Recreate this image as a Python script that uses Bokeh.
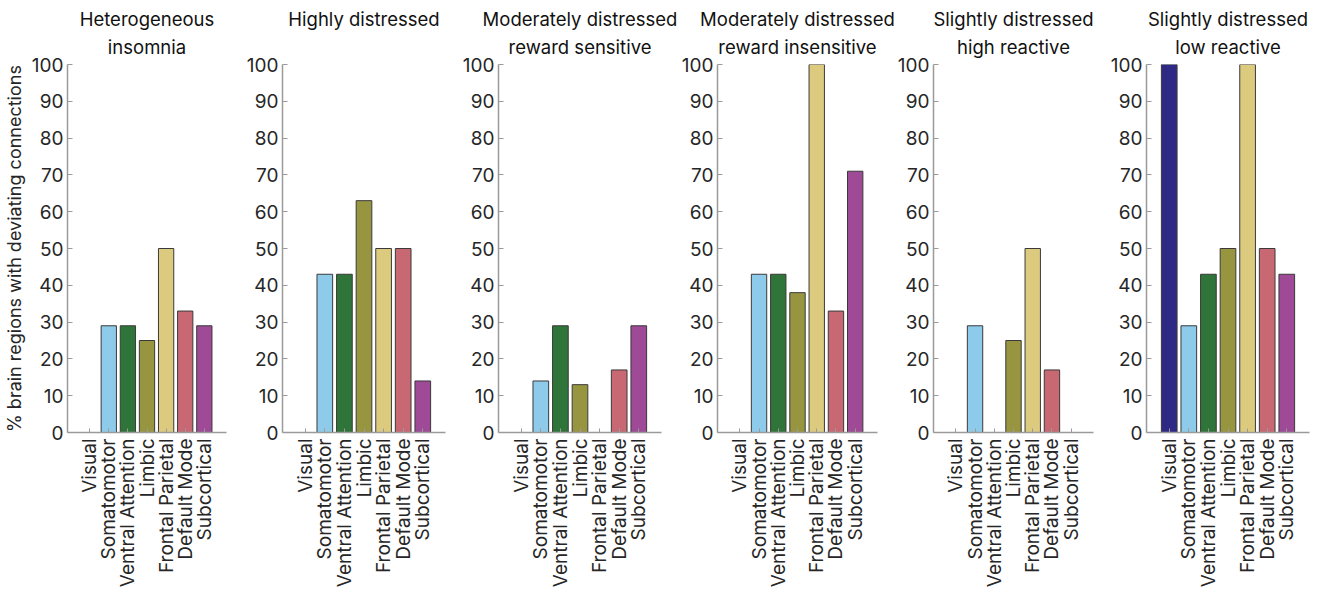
import math
from bokeh.plotting import figure
from bokeh.layouts import row
from bokeh.models import FixedTicker, Range1d, ColumnDataSource, Title
from bokeh.embed import file_html
from bokeh.resources import INLINE

networks = ["Visual", "Somatomotor", "Ventral Attention", "Limbic",
            "Frontal Parietal", "Default Mode", "Subcortical"]
network_colors = ["#2F2986", "#8ECBEA", "#2F7539", "#989541",
                  "#DCCB7F", "#C76873", "#9E4A97"]

title_line1 = ["Heterogeneous", "Highly distressed", "Moderately distressed",
               "Moderately distressed", "Slightly distressed", "Slightly distressed"]
title_line2 = ["insomnia", " ", "reward sensitive", "reward insensitive",
               "high reactive", "low reactive"]

heterogeneous_insomnia = [0, 29, 29, 25, 50, 33, 29]
highly_distressed = [0, 43, 43, 63, 50, 50, 14]
moderate_reward_sensitive = [0, 14, 29, 13, 0, 17, 29]
moderate_reward_insensitive = [0, 43, 43, 38, 100, 33, 71]
slight_high_reactive = [0, 29, 0, 25, 50, 17, 0]
slight_low_reactive = [100, 29, 43, 50, 100, 50, 43]

series = [heterogeneous_insomnia, highly_distressed, moderate_reward_sensitive,
          moderate_reward_insensitive, slight_high_reactive, slight_low_reactive]

y_ticks = list(range(0, 101, 10))
y_label = "% brain regions with deviating connections"

FONT = "Inter"
AXIS_COLOR = "#9a9a9a"
TEXT_COLOR = "#262626"

left_borders = [63, 40, 40, 36, 36, 40]
right_borders = [16, 13, 17, 17, 13, 6]


def make_title(text, standoff):
    return Title(text=text, align="center", text_font=FONT, text_font_size="18.5px",
                 text_font_style="normal", text_color="#111111",
                 standoff=standoff)


figs = []
for i, vals in enumerate(series):
    positions = list(range(1, len(networks) + 1))
    src = ColumnDataSource(dict(
        x=positions, top=vals, color=network_colors,
        la=[1.0 if v > 0 else 0.0 for v in vals],
    ))
    left = left_borders[i]
    right = right_borders[i]
    p = figure(width=left + 163 + right, height=592,
               x_range=Range1d(-0.16, 8.16), y_range=Range1d(0, 100),
               output_backend="svg", toolbar_location=None,
               min_border_left=left, min_border_right=right,
               min_border_top=64, min_border_bottom=160)
    p.title = None
    p.add_layout(make_title(title_line2[i], 13), "above")
    p.add_layout(make_title(title_line1[i], -4), "above")
    p.vbar(x="x", top="top", width=0.8, bottom=0, source=src,
           fill_color="color", line_color="#3a3a3a", line_width=1,
           line_alpha="la")

    p.xgrid.visible = False
    p.ygrid.visible = False
    p.outline_line_color = None
    p.background_fill_color = "white"
    p.border_fill_color = "white"

    xa = p.xaxis[0]
    xa.ticker = FixedTicker(ticks=positions)
    xa.major_label_overrides = {pos: name for pos, name in zip(positions, networks)}
    xa.major_label_orientation = math.pi / 2
    xa.major_tick_in = 4
    xa.major_tick_out = 0
    xa.minor_tick_line_color = None
    xa.axis_line_color = AXIS_COLOR
    xa.major_tick_line_color = AXIS_COLOR
    xa.axis_line_width = 1.5
    xa.major_label_text_font = FONT
    xa.major_label_text_font_size = "19px"
    xa.major_label_text_color = TEXT_COLOR
    xa.major_label_standoff = 6

    ya = p.yaxis[0]
    ya.ticker = FixedTicker(ticks=y_ticks)
    ya.major_tick_in = 5
    ya.major_tick_out = 0
    ya.minor_tick_line_color = None
    ya.axis_line_color = AXIS_COLOR
    ya.major_tick_line_color = AXIS_COLOR
    ya.axis_line_width = 1.5
    ya.major_label_text_font = FONT
    ya.major_label_text_font_size = "19px"
    ya.major_label_text_color = TEXT_COLOR
    ya.major_label_standoff = 4
    if i == 0:
        ya.axis_label = y_label
        ya.axis_label_text_font = FONT
        ya.axis_label_text_font_size = "18px"
        ya.axis_label_text_font_style = "normal"
        ya.axis_label_text_color = TEXT_COLOR
        ya.axis_label_standoff = 4
    figs.append(p)

layout = row(*figs, spacing=0)
open("out.html", "w").write(file_html(layout, INLINE))
